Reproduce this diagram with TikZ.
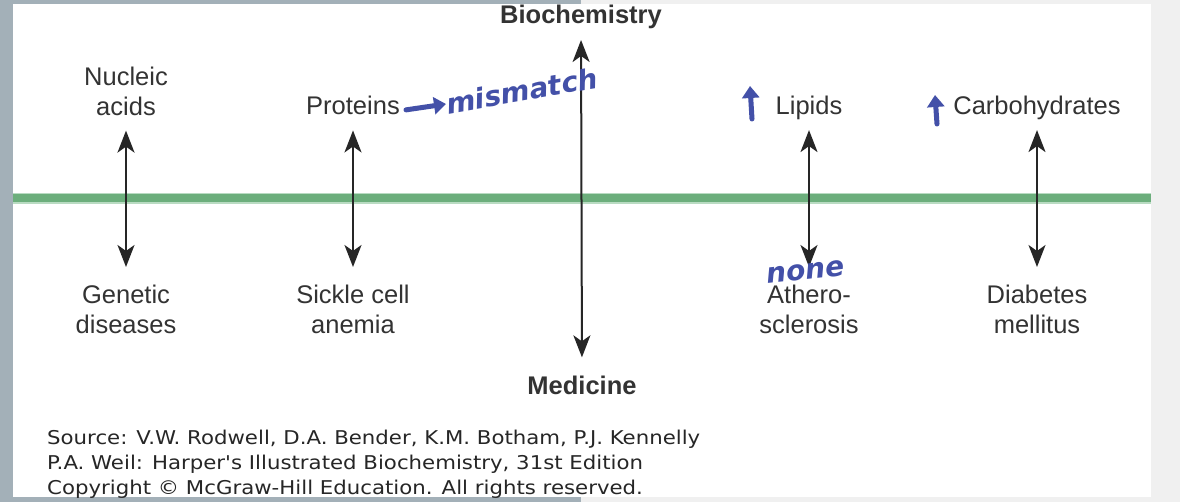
\documentclass[tikz,border=0pt]{standalone}
\usepackage{fontspec}
\setmainfont{Liberation Sans}
\newfontfamily\srcfont[FakeStretch=1.12]{DejaVu Sans}
\newfontfamily\handfont{DejaVu Sans}
\usetikzlibrary{arrows.meta}
\definecolor{framegray}{HTML}{A3B0B8}
\definecolor{pagegray}{HTML}{F0F0F0}
\definecolor{axisgreen}{HTML}{6CAE7C}
\definecolor{axisgreenlight}{HTML}{B9DBC2}
\definecolor{labelgray}{HTML}{333333}
\definecolor{inkblue}{HTML}{4350A8}
\tikzset{
  lbl/.style={inner sep=0pt, text=labelgray, align=center, font=\fontsize{25.5}{30}\selectfont},
  head/.style={inner sep=0pt, text=labelgray, font=\fontsize{25.5}{30}\selectfont\bfseries},
  src/.style={inner sep=0pt, text=black!85, anchor=base west, font=\srcfont\fontsize{19}{25}\selectfont},
  dblarrow/.style={line width=2pt, black!85, {Stealth[length=22pt,width=17pt,inset=6pt]}-{Stealth[length=22pt,width=17pt,inset=6pt]}},
  ink/.style={inner sep=0pt, text=inkblue, font=\handfont\fontsize{28}{28}\selectfont\bfseries\itshape},
  inkarrow/.style={line width=5pt, inkblue, line cap=round, -{Triangle[length=12pt,width=17pt]}}
}
\begin{document}
\begin{tikzpicture}[x=1pt,y=-1pt]
\useasboundingbox (0,0) rectangle (1180,502);
% backgrounds
\fill[pagegray] (0,0) rectangle (1180,502);
\fill[framegray] (0,0) rectangle (581,4);
\fill[framegray] (0,497) rectangle (581,502);
\fill[framegray] (0,0) rectangle (13,502);
\fill[white] (13,4) rectangle (1151,497);
% green axis
\coordinate (gl) at (13,198.5);
\coordinate (gr) at (1151,198.5);
\draw[axisgreenlight, line width=11pt] (gl) -- (gr);
\draw[axisgreen, line width=8pt] (gl) -- (gr);
% titles
\node[head, anchor=base] (bio) at (581,24) {Biochemistry};
\node[head, anchor=base] (med) at (582,394) {Medicine};
% top labels
\node[lbl, anchor=north] (nuc) at (126,66.5) {Nucleic\\acids};
\node[lbl, anchor=base] (prot) at (353,115) {Proteins};
\node[lbl, anchor=base] (lip) at (809,115) {Lipids};
\node[lbl, anchor=base] (carb) at (1037,115) {Carbohydrates};
% bottom labels
\node[lbl, anchor=north] (gen) at (126,285) {Genetic\\diseases};
\node[lbl, anchor=north] (sick) at (353,285) {Sickle cell\\anemia};
\node[lbl, anchor=north] (ath) at (809,285) {Athero-\\sclerosis};
\node[lbl, anchor=north] (diab) at (1037,285) {Diabetes\\mellitus};
% arrows
\draw[dblarrow, shorten <=10.5pt, shorten >=18pt] (bio.south) -- (med.north);
\draw[dblarrow, shorten <=15pt, shorten >=18pt] (nuc.south) -- (gen.north);
\draw[dblarrow, shorten <=15pt, shorten >=18pt] (prot.south) -- (sick.north);
\draw[dblarrow, shorten <=9.6pt, shorten >=18pt] (lip.south) -- (ath.north);
\draw[dblarrow, shorten <=9.6pt, shorten >=18pt] (carb.south) -- (diab.north);
% source
\node[src] (s1) at (47,444) {Source: V.W. Rodwell, D.A. Bender, K.M. Botham, P.J. Kennelly};
\node[src] (s2) at (47,469.5) {P.A. Weil: Harper's Illustrated Biochemistry, 31st Edition};
\node[src] (s3) at (47,494) {Copyright © McGraw-Hill Education. All rights reserved.};
% handwritten annotations
\node[ink, rotate=10, anchor=west] (mism) at (446,104) {mismatch};
\draw[inkarrow] ([xshift=6pt,yshift=-4pt]prot.east) -- (mism.west);
\coordinate (lipA) at (752,119);
\coordinate (lipB) at (750,86);
\draw[inkarrow] (lipA) -- (lipB);
\coordinate (carbA) at (937,124);
\coordinate (carbB) at (935,95);
\draw[inkarrow] (carbA) -- (carbB);
\node[ink, rotate=6] (none) at (806,272) {none};
\end{tikzpicture}
\end{document}
